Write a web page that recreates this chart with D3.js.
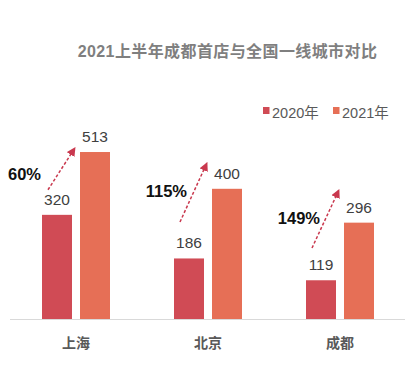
<!DOCTYPE html>
<html>
<head>
<meta charset="utf-8">
<script src="https://cdn.jsdelivr.net/npm/d3@7"></script>
<style>
  body { margin: 0; background: #fff; }
  svg { display: block; font-family: "Liberation Sans", Arial, "Noto Sans CJK SC", sans-serif; }
</style>
</head>
<body>
<div id="chart"></div>
<script>
// data
var cities = ["上海", "北京", "成都"];
var series = ["2020年", "2021年"];
var stores2020 = [320, 186, 119];
var stores2021 = [513, 400, 296];
// growth arrows, in store-count units (where the dashed arrow starts / ends)
var arrowFrom = [397, 298, 218];
var arrowTo = [526, 480, 397];
var titleText = "2021上半年成都首店与全国一线城市对比";

var colors = ["#d04b55", "#e66f56"];
var arrowColor = "#c9384e";

var width = 417, height = 374;
var baseY = 319;

var svg = d3.select("#chart").append("svg")
    .attr("width", width)
    .attr("height", height);

var defs = svg.append("defs");
defs.append("marker")
    .attr("id", "head")
    .attr("viewBox", "0 0 10 10")
    .attr("refX", 9).attr("refY", 5)
    .attr("markerWidth", 6).attr("markerHeight", 6)
    .attr("markerUnits", "strokeWidth")
    .attr("orient", "auto")
    .append("path")
    .attr("d", "M0,0 L10,5 L0,10 Z")
    .attr("fill", arrowColor);

// scales
var x = d3.scaleBand()
    .domain(cities)
    .range([10, 406])
    .padding(0);

var x1 = d3.scaleBand()
    .domain(series)
    .range([-34, 34])
    .paddingInner(8 / 38);

var y = d3.scaleLinear()
    .domain([0, 600])
    .range([baseY, baseY - 600 * 0.3255]);

var rows = cities.map(function(c, i) {
    return { city: c, vals: [stores2020[i], stores2021[i]], i: i };
});

// title
svg.append("text")
    .attr("x", 227.5)
    .attr("y", 57)
    .attr("text-anchor", "middle")
    .attr("font-size", 16)
    .attr("font-weight", "bold")
    .attr("letter-spacing", 0.4)
    .attr("fill", "#7f7f7f")
    .text(titleText);

// legend
var legend = svg.append("g").attr("class", "legend");
var legendX = [263, 333];
series.forEach(function(s, k) {
    legend.append("rect")
        .attr("x", legendX[k]).attr("y", 107)
        .attr("width", 6.5).attr("height", 7)
        .attr("fill", colors[k]);
    legend.append("text")
        .attr("x", legendX[k] + 9).attr("y", 118)
        .attr("font-size", 14.5)
        .attr("fill", "#595959")
        .text(s);
});

// axis line
svg.append("line")
    .attr("x1", 10).attr("x2", 405)
    .attr("y1", baseY + 0.5).attr("y2", baseY + 0.5)
    .attr("stroke", "#d9d9d9")
    .attr("stroke-width", 1);

// bars
var groups = svg.append("g").selectAll("g")
    .data(rows)
    .enter()
    .append("g")
    .attr("transform", function(d) {
        return "translate(" + (x(d.city) + x.bandwidth() / 2) + ",0)";
    });

groups.selectAll("rect")
    .data(function(d) { return d.vals.map(function(v, k) { return { v: v, k: k }; }); })
    .enter()
    .append("rect")
    .attr("x", function(d) { return x1(series[d.k]); })
    .attr("width", x1.bandwidth())
    .attr("y", function(d) { return y(d.v); })
    .attr("height", function(d) { return baseY - y(d.v); })
    .attr("fill", function(d) { return colors[d.k]; });

groups.selectAll("text.val")
    .data(function(d) { return d.vals.map(function(v, k) { return { v: v, k: k }; }); })
    .enter()
    .append("text")
    .attr("class", "val")
    .attr("x", function(d) { return x1(series[d.k]) + x1.bandwidth() / 2; })
    .attr("y", function(d) { return y(d.v) - 10; })
    .attr("text-anchor", "middle")
    .attr("font-size", 15.5)
    .attr("fill", "#404040")
    .text(function(d) { return d.v; });

// category labels
svg.append("g").selectAll("text")
    .data(cities)
    .enter()
    .append("text")
    .attr("x", function(d) { return x(d) + x.bandwidth() / 2; })
    .attr("y", 348)
    .attr("text-anchor", "middle")
    .attr("font-size", 14)
    .attr("font-weight", "bold")
    .attr("fill", "#595959")
    .text(function(d) { return d; });

// growth arrows + labels
var labelNudge = [[-7, -10], [7, -25], [8, -24]];
rows.forEach(function(d) {
    var cx = x(d.city) + x.bandwidth() / 2;
    var sx = cx + x1(series[0]) + 6;
    var sy = y(arrowFrom[d.i]);
    var ex = cx + x1(series[1]) - 5;
    var ey = y(arrowTo[d.i]);
    svg.append("line")
        .attr("x1", sx).attr("y1", sy)
        .attr("x2", ex).attr("y2", ey)
        .attr("stroke", arrowColor)
        .attr("stroke-width", 1.5)
        .attr("stroke-dasharray", "3,2")
        .attr("marker-end", "url(#head)");
    var pct = Math.round((d.vals[1] / d.vals[0] - 1) * 100);
    svg.append("text")
        .attr("x", sx + labelNudge[d.i][0])
        .attr("y", sy + labelNudge[d.i][1])
        .attr("text-anchor", "end")
        .attr("font-size", 16.5)
        .attr("font-weight", "bold")
        .attr("fill", "#111")
        .text(pct + "%");
});
</script>
</body>
</html>
